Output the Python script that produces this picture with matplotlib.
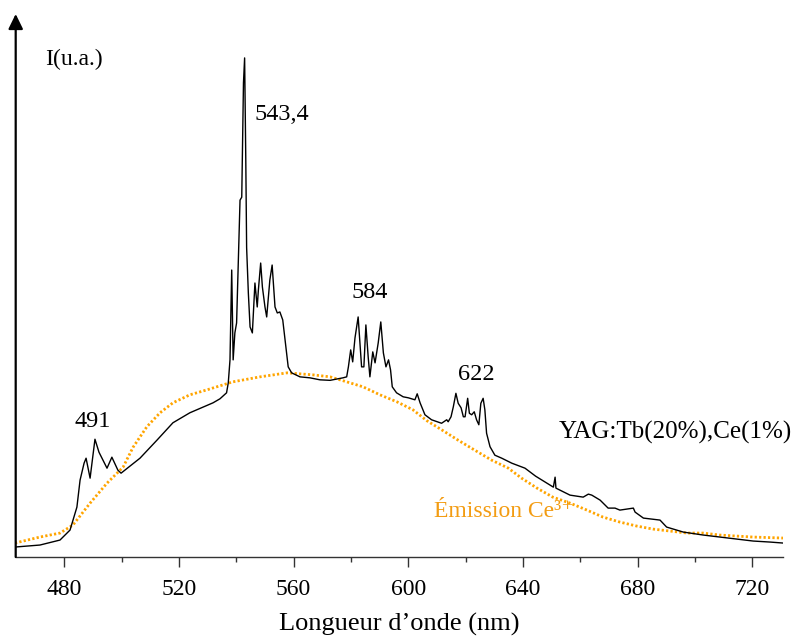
import matplotlib
matplotlib.use("Agg")
import matplotlib.pyplot as plt
from matplotlib.ticker import FixedLocator

plt.rcParams['font.family'] = ['Liberation Serif', 'DejaVu Serif']

# YAG:Tb(20%),Ce(1%) emission spectrum (black)
tb_wl = [462.8, 471.5, 478.5, 482.0, 484.4, 485.5, 486.9, 487.6, 489.0, 490.7,
         492.1, 494.9, 496.6, 498.7, 499.8, 506.4, 512.3, 517.9, 523.8, 531.9,
         534.3, 536.6, 537.2, 537.8, 538.4, 538.9, 539.5, 540.1, 541.3, 541.9,
         542.5, 542.9, 543.3, 543.6, 544.2, 544.8, 545.6, 546.5, 547.3, 547.7,
         548.5, 549.1, 550.0, 550.6, 551.7, 552.5, 553.5, 554.3, 555.2, 556.2,
         557.0, 558.1, 559.3, 562.2, 565.7, 569.2, 572.7, 577.2, 578.5, 579.1,
         579.9, 580.6, 581.4, 582.5, 583.7, 584.5, 585.2, 586.0, 586.6, 587.6,
         588.4, 589.5, 590.4, 591.3, 592.2, 593.1, 593.8, 594.4, 595.9, 598.2,
         600.0, 602.3, 603.1, 604.1, 605.8, 608.1, 611.6, 613.4, 613.9, 614.9,
         615.7, 616.6, 617.4, 618.4, 619.2, 619.8, 620.7, 621.3, 622.1, 623.0,
         623.8, 624.6, 625.3, 626.1, 626.7, 627.3, 628.5, 630.2, 632.6, 636.1,
         640.7, 644.4, 650.6, 651.2, 651.5, 656.4, 661.0, 662.8, 664.0, 666.9,
         669.7, 672.1, 673.8, 678.5, 679.1, 682.0, 687.8, 690.1, 695.9, 702.9,
         708.7, 714.5, 720.3, 726.1, 730.7]
tb_int = [2.0, 2.4, 3.4, 5.4, 10.0, 15.4, 18.8, 19.8, 15.8, 23.6,
          21.0, 17.8, 20.0, 17.4, 16.8, 19.8, 23.4, 26.9, 28.9, 30.9,
          31.7, 32.9, 34.9, 39.5, 57.5, 39.5, 44.9, 46.9, 71.5, 72.1,
          95.0, 100.0, 80.0, 62.0, 52.9, 46.1, 44.9, 54.9, 50.1, 53.5,
          58.9, 54.1, 50.1, 48.1, 55.5, 58.5, 50.1, 48.9, 49.1, 47.5,
          43.5, 38.1, 36.9, 36.1, 35.9, 35.5, 35.4, 35.9, 36.1, 38.1,
          41.5, 39.1, 43.9, 48.1, 38.1, 38.1, 46.5, 40.1, 36.1, 41.1,
          38.9, 42.9, 47.1, 40.9, 38.1, 39.5, 37.5, 34.1, 32.9, 32.1,
          31.9, 31.5, 32.7, 30.9, 28.5, 27.5, 26.8, 27.5, 27.1, 28.1,
          30.1, 32.8, 30.8, 29.9, 28.1, 28.1, 31.8, 28.8, 28.5, 29.1,
          27.5, 26.5, 30.8, 31.8, 29.5, 24.8, 22.1, 20.4, 19.8, 18.8,
          17.8, 16.2, 14.0, 16.0, 13.8, 12.4, 12.0, 12.6, 12.4, 11.4,
          9.8, 9.8, 9.4, 9.8, 9.0, 7.8, 7.4, 6.0, 5.0, 4.4,
          4.0, 3.6, 3.2, 3.0, 2.8]

# Ce3+ emission (orange dotted)
ce_wl = [462.8, 471.5, 478.5, 483.0, 489.0, 494.9, 500.5, 504.0, 508.8, 513.4,
         517.9, 523.8, 529.8, 538.8, 548.3, 557.7, 566.7, 572.7, 578.5, 584.2,
         590.1, 596.0, 601.6, 606.5, 611.6, 617.4, 623.2, 629.1, 634.9, 639.5,
         644.9, 650.4, 656.4, 662.3, 667.9, 673.8, 679.7, 685.3, 691.3, 697.2,
         702.8, 708.7, 720.2, 730.7]
ce_int = [2.8, 4.0, 4.8, 6.4, 10.8, 14.8, 18.0, 22.0, 26.1, 28.9,
          30.9, 32.5, 33.5, 35.1, 36.1, 36.9, 36.5, 36.1, 35.1, 34.1,
          32.5, 31.1, 29.5, 27.3, 25.5, 23.4, 21.4, 19.4, 17.8, 15.8,
          13.8, 12.0, 10.8, 9.4, 8.0, 7.0, 6.2, 5.6, 5.2, 4.8,
          4.8, 4.4, 4.0, 3.8]

major_ticks = [480, 520, 560, 600, 640, 680, 720]
minor_ticks = [500, 540, 580, 620, 660, 700]

peak_labels = ["543,4", "584", "622", "491"]
peak_label_pos = [(555.9, 88.6), (586.6, 52.9), (623.6, 36.5), (490.0, 27.1)]

fig = plt.figure(figsize=(8.03, 6.39), dpi=100)
ax = fig.add_axes([0.01955, 0.1283, 0.9552, 0.8498])

ax.plot(ce_wl, ce_int, color='#FFA500', lw=2.0, linestyle=(0, (0.8, 0.8)), zorder=2)
ax.plot(tb_wl, tb_int, color='black', lw=1.0, zorder=3)

ax.set_xlim(463.05, 730.6)
ax.set_ylim(0, 108.8)

for s in ['top', 'right', 'left']:
    ax.spines[s].set_visible(False)
ax.spines['bottom'].set_color('#333333')
ax.spines['bottom'].set_linewidth(1.0)

ax.annotate('', xy=(0, 1), xytext=(0, 0), xycoords='axes fraction',
            arrowprops=dict(arrowstyle='-|>,head_length=0.45,head_width=0.22',
                            lw=1.6, color='black', mutation_scale=20,
                            shrinkA=0, shrinkB=0))

ax.xaxis.set_major_locator(FixedLocator(major_ticks))
ax.xaxis.set_minor_locator(FixedLocator(minor_ticks))
ax.set_xticklabels([str(t) for t in major_ticks])
ax.tick_params(axis='x', which='major', length=7, width=1.0, color='#333333',
               labelsize=17, pad=9)
ax.tick_params(axis='x', which='minor', length=3.5, width=1.0, color='#333333')
ax.set_yticks([])

ax.set_xlabel('Longueur d’onde (nm)', fontsize=19, labelpad=9)

for lab, (x, y) in zip(peak_labels, peak_label_pos):
    ax.text(x, y, lab, fontsize=17.5, ha='center', va='center', zorder=6)

ax.text(473.3, 99.6, 'I(u.a.)', fontsize=17, ha='left', va='center')
ax.text(693.3, 25.0, 'YAG:Tb(20%),Ce(1%)', fontsize=18, ha='center', va='center',
        zorder=6)
ax.text(633.5, 9.2, 'Émission Ce³⁺', fontsize=17, ha='center', va='center',
        color='#F39C12', family=['Liberation Serif', 'DejaVu Serif'], zorder=6)

fig.savefig('out.png', dpi=100)
